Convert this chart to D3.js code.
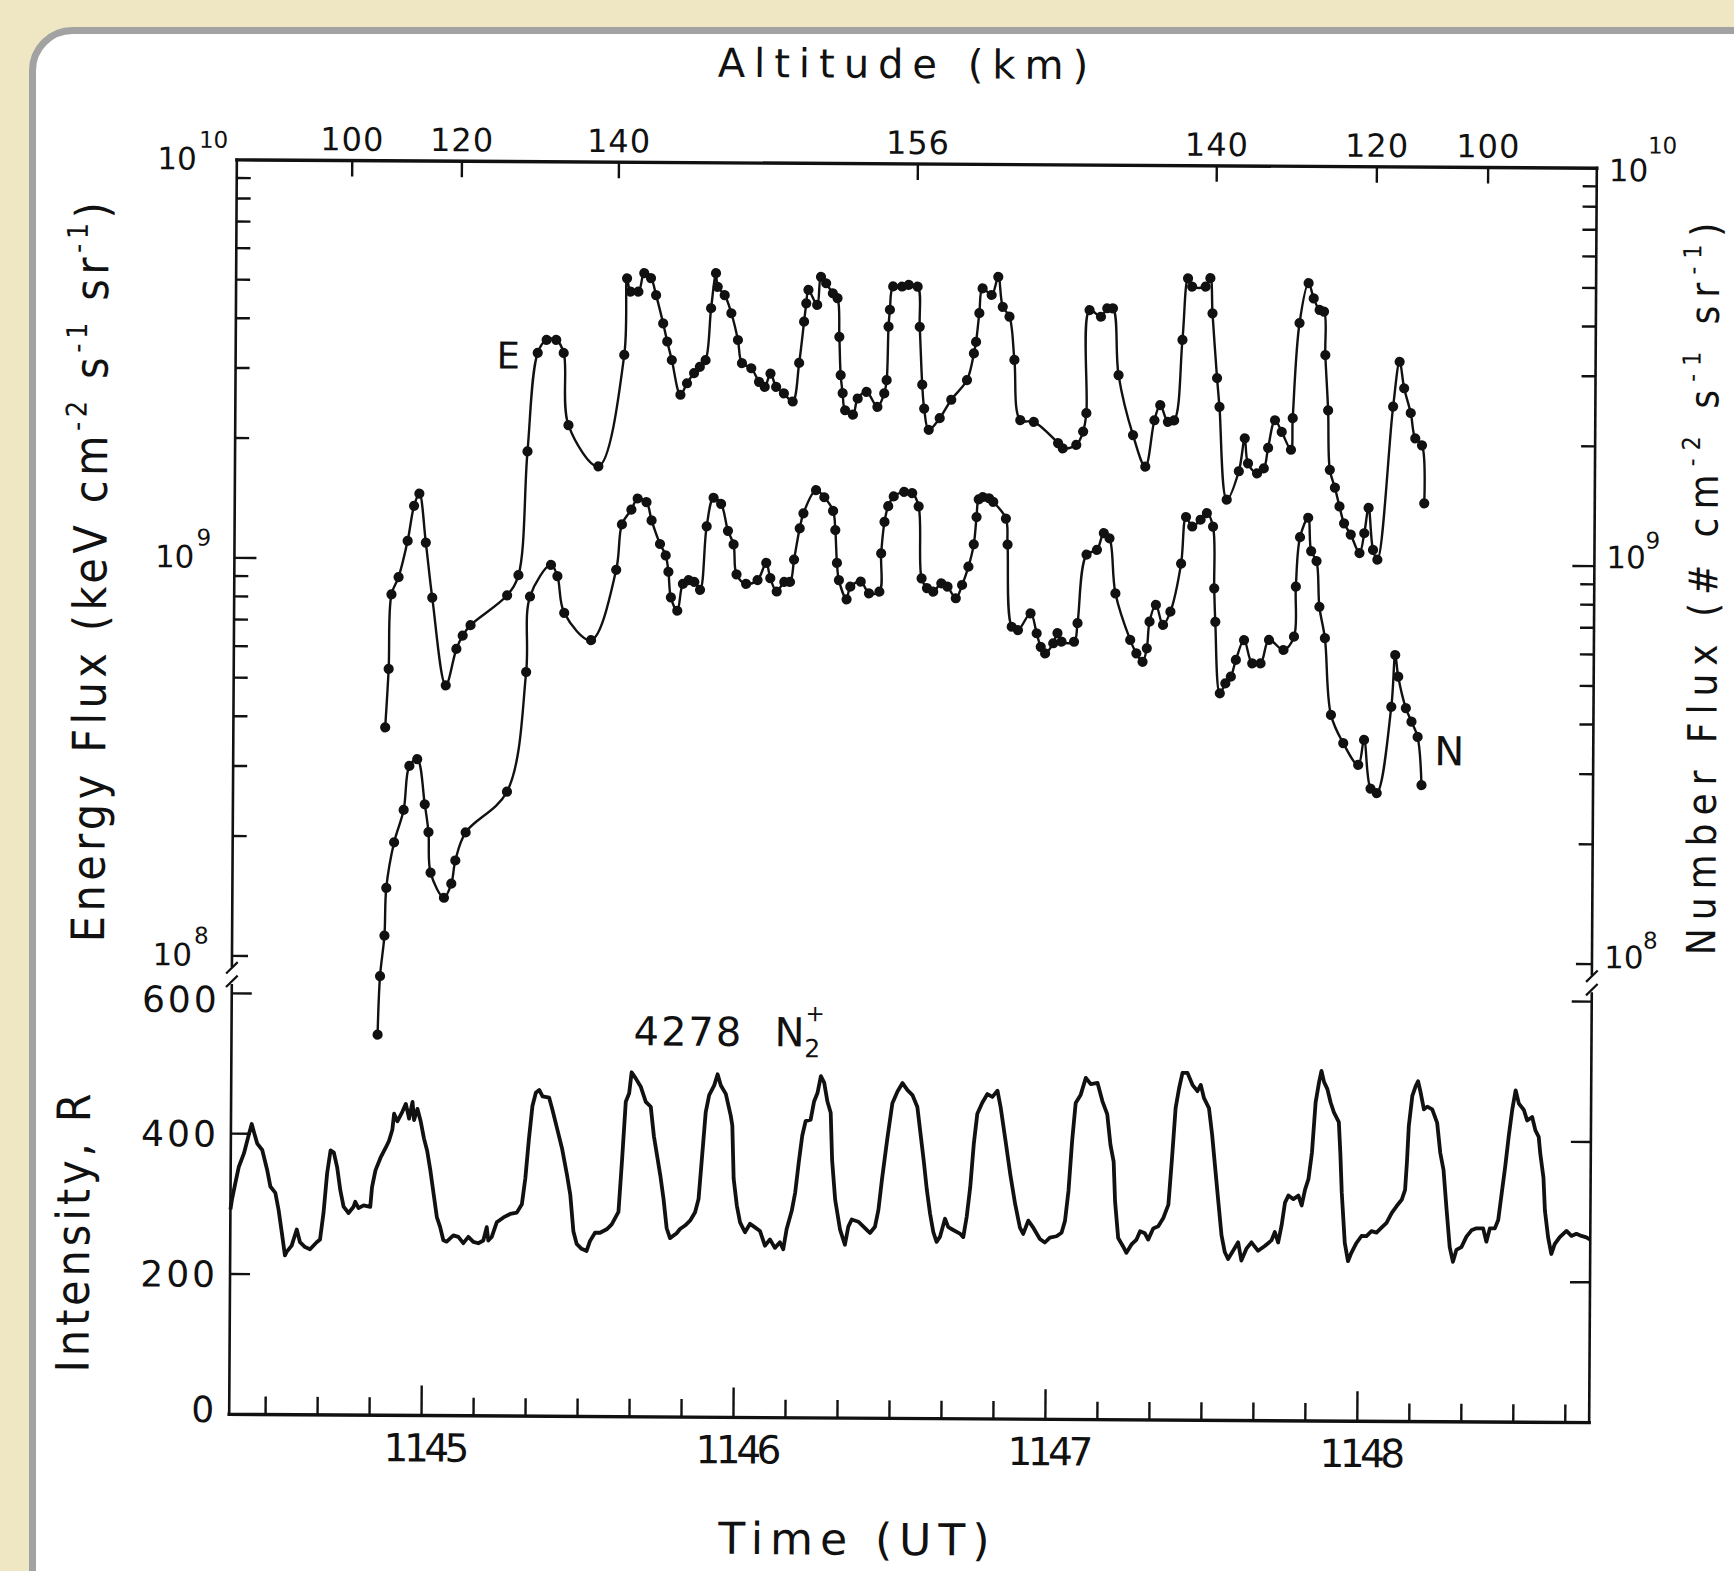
<!DOCTYPE html>
<html>
<head>
<meta charset="utf-8">
<script src="https://cdn.jsdelivr.net/npm/d3@7"></script>
<style>
  html, body { margin: 0; padding: 0; background: #efe6c4; }
  svg { display: block; }
  text { font-family: "DejaVu Sans", "Liberation Sans", sans-serif; fill: #111; }
  .cond { font-family: "DejaVu Sans Condensed", "DejaVu Sans", sans-serif; }
</style>
</head>
<body>
<svg id="chart" width="1734" height="1571"></svg>
<script>
// Time is given in seconds after 11:44:00 UT.

// Energy flux E (keV cm^-2 s^-1 sr^-1)
const energyFluxE = [
  [52.2,3.77e8],[52.8,5.29e8],[53.25,8.14e8],[54.6,9.0e8],[56.3,1.11e9],[57.5,1.36e9],[58.5,1.46e9],
  [59.8,1.10e9],[61.1,8.0e8],[63.8,4.82e8],[65.8,5.95e8],[67.0,6.43e8],[68.5,6.83e8],[75.5,8.13e8],
  [77.65,9.14e8],[79.25,1.87e9],[81.1,3.31e9],[82.8,3.57e9],[84.65,3.57e9],[86.1,3.31e9],[87.1,2.18e9],
  [92.9,1.72e9],[97.75,3.28e9],[98.2,5.11e9],[98.9,4.73e9],[100.4,4.73e9],[101.5,5.27e9],[102.8,5.12e9],
  [103.8,4.64e9],[105.2,3.94e9],[106.0,3.55e9],[106.9,3.19e9],[108.6,2.61e9],[109.85,2.79e9],[111.2,2.96e9],
  [112.3,3.07e9],[113.4,3.19e9],[114.4,4.31e9],[115.3,5.28e9],[115.65,4.88e9],[117.0,4.65e9],[118.3,4.19e9],
  [119.6,3.59e9],[120.4,3.14e9],[122.2,3.05e9],[123.7,2.82e9],[124.8,2.74e9],[125.9,2.96e9],[127.0,2.74e9],
  [128.5,2.64e9],[130.2,2.52e9],[131.4,3.15e9],[132.3,4.0e9],[132.7,4.45e9],[133.1,4.81e9],[134.8,4.41e9],
  [135.5,5.19e9],[136.5,5.0e9],[137.8,4.72e9],[138.7,4.59e9],[139.1,3.67e9],[139.4,2.94e9],[139.8,2.65e9],
  [140.3,2.40e9],[141.8,2.34e9],[142.7,2.57e9],[144.4,2.67e9],[146.5,2.45e9],[147.8,2.65e9],[148.25,2.86e9],
  [148.55,3.90e9],[148.8,4.30e9],[149.4,4.92e9],[151.1,4.92e9],[152.4,4.97e9],[154.1,4.92e9],[154.55,3.90e9],
  [155.1,2.79e9],[155.5,2.43e9],[156.4,2.15e9],[158.5,2.30e9],[160.7,2.56e9],[163.7,2.87e9],[165.0,3.35e9],
  [165.4,3.58e9],[166.0,4.23e9],[166.6,4.88e9],[168.35,4.70e9],[169.6,5.22e9],[170.5,4.39e9],[171.8,4.15e9],
  [172.8,3.23e9],[174.0,2.28e9],[176.6,2.26e9],[181.3,2.0e9],[182.2,1.94e9],[184.8,1.98e9],[186.1,2.14e9],
  [186.7,2.38e9],[187.2,4.32e9],[189.4,4.16e9],[190.6,4.37e9],[191.7,4.37e9],[192.85,2.97e9],[195.7,2.10e9],
  [198.1,1.75e9],[199.8,2.29e9],[200.9,2.50e9],[202.4,2.27e9],[203.6,2.29e9],[205.1,3.65e9],[206.1,5.21e9],
  [206.9,4.97e9],[209.5,4.97e9],[210.4,5.22e9],[210.85,4.26e9],[211.8,2.93e9],[212.3,2.48e9],[213.8,1.45e9],
  [216.1,1.71e9],[217.2,2.07e9],[217.85,1.79e9],[219.6,1.69e9],[220.9,1.74e9],[221.7,1.96e9],[223.0,2.30e9],
  [224.3,2.15e9],[226.1,1.94e9],[226.4,2.33e9],[227.6,4.04e9],[229.3,5.09e9],[230.3,4.66e9],[231.45,4.36e9],
  [232.3,4.32e9],[232.6,3.36e9],[233.2,2.44e9],[233.6,1.73e9],[234.6,1.56e9],[235.5,1.40e9],[236.4,1.27e9],
  [237.7,1.19e9],[239.4,1.07e9],[240.3,1.20e9],[241.1,1.39e9],[242.0,1.09e9],[242.85,1.03e9],[245.7,2.50e9],
  [246.9,3.24e9],[247.8,2.78e9],[249.1,2.41e9],[250.0,2.08e9],[251.3,2.0e9],[251.8,1.43e9]
];

// Number flux N (# cm^-2 s^-1 sr^-1)
const numberFluxN = [
  [51.1,6.37e7],[51.5,8.94e7],[52.3,1.13e8],[52.6,1.49e8],[54.05,1.94e8],[55.85,2.34e8],[56.9,3.02e8],
  [58.4,3.14e8],[59.9,2.42e8],[60.65,2.06e8],[61.1,1.63e8],[63.7,1.41e8],[65.1,1.53e8],[65.85,1.75e8],
  [67.8,2.06e8],[75.7,2.61e8],[79.25,5.22e8],[79.9,8.08e8],[83.9,9.71e8],[85.15,9.10e8],[86.5,7.36e8],
  [91.7,6.29e8],[96.45,9.46e8],[97.5,1.23e9],[99.3,1.34e9],[100.5,1.43e9],[102.2,1.40e9],[103.2,1.26e9],
  [104.85,1.10e9],[105.95,1.03e9],[106.5,9.37e8],[107.0,8.08e8],[108.25,7.48e8],[109.3,8.74e8],[110.4,8.93e8],
  [111.5,8.84e8],[112.6,8.45e8],[113.8,1.22e9],[115.1,1.44e9],[116.55,1.39e9],[117.9,1.19e9],[119.0,1.10e9],
  [119.6,9.25e8],[121.45,8.76e8],[123.65,8.96e8],[125.3,9.9e8],[126.1,9.06e8],[127.35,8.39e8],[128.8,8.87e8],
  [129.9,8.87e8],[130.65,1.01e9],[131.7,1.21e9],[132.4,1.32e9],[134.8,1.51e9],[136.4,1.45e9],[138.1,1.34e9],
  [138.55,1.20e9],[138.9,9.92e8],[139.3,8.98e8],[140.8,8.04e8],[141.5,8.65e8],[143.5,8.91e8],[145.1,8.33e8],
  [147.1,8.41e8],[147.4,1.05e9],[148.0,1.26e9],[148.7,1.38e9],[149.75,1.46e9],[151.75,1.50e9],[153.3,1.49e9],
  [154.55,1.38e9],[155.2,9.1e8],[156.25,8.6e8],[157.45,8.43e8],[159.0,8.85e8],[160.2,8.68e8],[161.8,8.12e8],
  [163.0,8.77e8],[164.2,9.75e8],[165.2,1.11e9],[165.7,1.30e9],[166.1,1.44e9],[166.9,1.46e9],[168.1,1.45e9],
  [168.9,1.42e9],[171.35,1.29e9],[171.7,1.11e9],[172.6,6.90e8],[173.8,6.77e8],[176.2,7.46e8],[177.4,6.65e8],
  [178.2,6.15e8],[179.05,5.92e8],[180.6,6.28e8],[181.4,6.66e8],[182.2,6.34e8],[184.6,6.34e8],[185.25,7.06e8],
  [186.9,1.05e9],[188.9,1.08e9],[190.2,1.19e9],[191.3,1.155e9],[192.5,8.40e8],[195.4,6.42e8],[196.6,5.94e8],
  [197.8,5.66e8],[198.6,6.12e8],[199.1,7.14e8],[200.3,7.87e8],[201.7,7.01e8],[203.1,7.57e8],[205.1,1.0e9],
  [206.0,1.31e9],[207.2,1.24e9],[208.8,1.29e9],[210.0,1.34e9],[211.2,1.24e9],[211.5,8.68e8],[211.75,7.15e8],
  [212.7,4.73e8],[213.75,5.01e8],[214.8,5.21e8],[215.75,5.74e8],[217.3,6.44e8],[218.9,5.63e8],[220.5,5.63e8],
  [222.1,6.45e8],[224.9,6.09e8],[226.9,6.58e8],[227.2,8.79e8],[227.95,1.17e9],[229.5,1.31e9],[230.1,1.08e9],
  [231.15,1.02e9],[231.75,7.83e8],[232.85,6.53e8],[234.1,4.19e8],[236.5,3.56e8],[239.4,3.14e8],[240.5,3.63e8],
  [241.8,2.74e8],[243.0,2.67e8],[245.7,4.40e8],[246.4,5.94e8],[247.0,5.24e8],[248.5,4.37e8],[249.6,4.04e8],
  [250.8,3.70e8],[251.6,2.80e8]
];

// 4278 A N2+ photometer intensity (R)
const intensity4278 = [
  [23.0,292],[23.28,306],[23.92,330],[24.57,353],[25.53,372],[26.49,400],[27.0,414],[27.45,402],[28.09,386],
  [29.05,377],[30.01,349],[30.66,325],[31.62,316],[32.26,292],[32.9,260],[33.54,227],[33.86,232],[34.82,241],
  [35.78,264],[36.42,246],[37.39,239],[38.35,236],[39.63,246],[40.27,250],[40.91,288],[41.55,344],[42.19,377],
  [42.83,374],[43.48,353],[44.12,320],[44.76,297],[45.72,288],[46.68,297],[47.0,304],[47.64,295],[48.6,299],
  [49.89,297],[50.21,325],[50.85,349],[51.81,367],[52.77,381],[53.41,391],[54.05,407],[54.37,430],[55.01,419],
  [55.97,433],[56.62,444],[57.26,423],[57.9,447],[58.22,421],[58.86,437],[59.5,419],[60.14,395],[60.78,377],
  [61.42,349],[62.06,316],[62.71,283],[63.35,269],[63.99,250],[64.63,248],[65.91,257],[66.87,255],[67.83,246],
  [68.8,255],[69.76,248],[70.72,246],[71.68,250],[72.32,269],[72.64,250],[73.28,255],[74.24,276],[75.53,283],
  [76.81,288],[78.09,290],[79.05,302],[79.69,339],[80.33,395],[80.97,442],[81.61,461],[82.26,465],[82.9,456],
  [84.18,454],[84.82,437],[85.78,409],[86.74,381],[87.7,344],[88.35,316],[88.99,264],[89.63,246],[90.59,239],
  [91.55,236],[92.19,250],[93.15,262],[94.11,262],[95.4,267],[96.36,274],[97.0,283],[97.64,292],[98.28,367],
  [98.92,449],[99.56,461],[100.01,491],[100.84,482],[101.81,470],[102.77,449],[103.73,442],[104.37,400],
  [105.01,372],[105.65,344],[106.29,311],[106.93,269],[107.58,255],[108.86,262],[109.5,268],[110.46,273],
  [111.42,280],[112.38,292],[113.03,311],[113.67,373],[114.31,435],[114.95,459],[115.91,473],[116.55,489],
  [117.19,473],[118.15,461],[119.12,430],[119.44,416],[119.76,340],[120.4,302],[121.04,278],[122.0,264],
  [122.96,276],[123.92,271],[124.88,266],[125.85,245],[126.81,254],[127.77,242],[128.73,250],[129.37,240],
  [130.01,269],[130.97,295],[131.61,321],[132.26,364],[132.9,402],[133.54,423],[134.5,425],[135.14,451],
  [135.78,463],[136.42,487],[137.06,478],[137.7,451],[138.35,435],[138.67,368],[139.31,311],[140.27,269],
  [141.23,247],[141.87,273],[142.51,283],[143.79,280],[145.08,271],[146.04,264],[147.0,273],[147.64,297],
  [148.28,340],[149.24,397],[150.2,449],[151.17,466],[152.13,478],[153.09,468],[154.05,461],[155.01,444],
  [155.65,406],[156.29,368],[156.93,326],[157.58,292],[158.22,266],[158.86,252],[159.5,259],[160.46,285],
  [161.1,273],[162.06,269],[163.34,264],[163.99,259],[164.63,288],[165.27,330],[165.91,392],[166.55,435],
  [167.51,451],[168.47,463],[169.43,459],[170.4,468],[171.04,444],[172.0,397],[172.96,349],[173.92,307],
  [174.88,273],[175.52,264],[176.48,283],[177.45,273],[178.73,257],[179.69,252],[180.65,259],[181.93,261],
  [182.89,266],[183.54,283],[184.18,326],[184.82,397],[185.46,451],[186.42,463],[187.38,487],[188.34,478],
  [189.63,480],[190.59,454],[191.55,435],[192.19,392],[192.83,368],[193.15,311],[193.79,259],[194.75,247],
  [195.39,238],[196.36,250],[197.32,257],[198.0,269],[198.92,266],[199.56,257],[200.52,273],[201.49,276],
  [202.45,288],[203.41,307],[204.05,373],[204.69,445],[205.33,473],[205.97,495],[206.93,495],[207.9,478],
  [208.86,469],[209.5,478],[210.14,459],[211.1,445],[211.74,407],[212.38,359],[213.02,311],[213.66,264],
  [214.31,240],[214.95,230],[215.91,242],[216.87,254],[217.51,228],[218.47,245],[219.43,254],[220.72,242],
  [222.0,249],[223.28,257],[223.92,269],[224.56,254],[225.2,278],[225.84,311],[226.48,321],[227.45,316],
  [228.41,321],[229.05,307],[229.69,330],[230.33,345],[230.97,383],[231.61,454],[232.25,483],[232.7,499],
  [233.22,483],[233.86,473],[234.5,454],[235.14,440],[236.1,426],[236.42,383],[236.74,326],[237.38,254],
  [238.02,228],[238.66,240],[239.63,254],[240.59,264],[241.55,264],[242.51,271],[243.47,269],[244.43,276],
  [245.39,283],[246.36,297],[247.32,307],[248.28,316],[248.92,330],[249.24,369],[249.56,421],[250.2,464],
  [250.84,478],[251.29,485],[251.8,469],[252.45,445],[253.09,449],[254.05,445],[255.01,426],[255.65,383],
  [256.29,359],[256.93,302],[257.57,249],[258.21,228],[258.86,245],[259.82,249],[260.78,264],[261.74,273],
  [262.7,276],[263.98,276],[264.62,257],[265.27,276],[266.23,276],[266.87,288],[267.51,326],[268.15,364],
  [268.79,407],[269.43,445],[270.07,473],[270.71,454],[271.68,445],[272.32,430],[273.28,435],[273.92,416],
  [274.56,407],[274.88,383],[275.52,349],[275.84,302],[276.48,264],[277.12,240],[277.76,254],[278.73,264],
  [280.01,273],[280.97,266],[281.93,269],[282.89,266],[283.85,264],[284.5,261]
];

// Rocket altitude (km) marked along the top edge, at these times
const altitudeTickTimes  = [45.2, 66.3, 96.5, 154, 211.5, 242.3, 263.7];
const altitudeTickLabels = ["100", "120", "140", "156", "140", "120", "100"];

// Time axis: minutes (UT) and 10 s minor ticks
const timeMajorTicks  = [60, 120, 180, 240];
const timeMajorLabels = ["1145", "1146", "1147", "1148"];
const timeMinorTicks  = d3.range(30, 285, 10);

// Flux axes (log) and intensity axis (linear)
const fluxDecades     = [1e8, 1e9, 1e10];
const fluxDecadeExp   = ["8", "9", "10"];
const intensityTicks  = [0, 200, 400, 600];

// ---------------------------------------------------------------------
const L = 233, R = 1593, T = 164, B = 1418.5;
const topBottom = 960;     // 10^8 line of the flux panel
const intTop = 997.5;      // 600 R line of the intensity panel

const svg = d3.select("#chart");

// white card with grey rim
svg.append("rect")
  .attr("x", 32.5).attr("y", 30.5)
  .attr("width", 1800).attr("height", 1700)
  .attr("rx", 40)
  .attr("fill", "#ffffff")
  .attr("stroke", "#a2a2a2")
  .attr("stroke-width", 7);

const g = svg.append("g").attr("transform", "rotate(0.35 913 791)");

const x = d3.scaleLinear().domain([23, 284.6]).range([L, R]);
const yFlux = d3.scaleLog().domain([1e8, 1e10]).range([topBottom, T]);
const yInt = d3.scaleLinear().domain([0, 600]).range([B, intTop]);

const ink = "#111";

// ---- frame ----
const frame = g.append("g").attr("stroke", ink).attr("fill", "none").attr("stroke-linecap", "square");
frame.append("line").attr("x1", L).attr("x2", R).attr("y1", T).attr("y2", T).attr("stroke-width", 3.4);
frame.append("line").attr("x1", L).attr("x2", R).attr("y1", B).attr("y2", B).attr("stroke-width", 3.4);
frame.append("line").attr("x1", L).attr("x2", L).attr("y1", T).attr("y2", topBottom + 10).attr("stroke-width", 2.6);
frame.append("line").attr("x1", L).attr("x2", L).attr("y1", intTop - 8).attr("y2", B).attr("stroke-width", 2.6);
frame.append("line").attr("x1", R).attr("x2", R).attr("y1", T).attr("y2", topBottom + 10).attr("stroke-width", 2.6);
frame.append("line").attr("x1", R).attr("x2", R).attr("y1", intTop - 8).attr("y2", B).attr("stroke-width", 2.6);

// axis breaks
[L, R].forEach(ax => {
  [topBottom + 12, intTop - 12].forEach(yb => {
    frame.append("line")
      .attr("x1", ax - 5).attr("y1", yb + 5)
      .attr("x2", ax + 5).attr("y2", yb - 5)
      .attr("stroke-width", 2.2);
  });
});

// ---- log-axis ticks, left and right ----
const fluxTicks = [];
[1e8, 1e9].forEach(dec => {
  for (let k = 1; k <= 9; k++) fluxTicks.push({ v: dec * k, major: k === 1 });
});
const tickG = g.append("g").attr("stroke", ink).attr("stroke-width", 2.4);
fluxTicks.forEach(tk => {
  const yy = yFlux(tk.v);
  const len = tk.v === 1e8 ? 16 : (tk.major ? 22 : 14);
  tickG.append("line").attr("x1", L).attr("x2", L + len).attr("y1", yy).attr("y2", yy);
  tickG.append("line").attr("x1", R).attr("x2", R - len).attr("y1", yy).attr("y2", yy);
});

// intensity ticks
intensityTicks.filter(v => v > 0).forEach(v => {
  const yy = yInt(v);
  tickG.append("line").attr("x1", L).attr("x2", L + 20).attr("y1", yy).attr("y2", yy);
  tickG.append("line").attr("x1", R).attr("x2", R - 20).attr("y1", yy).attr("y2", yy);
});

// time ticks
timeMinorTicks.forEach(t => {
  const major = timeMajorTicks.includes(t);
  tickG.append("line")
    .attr("x1", x(t)).attr("x2", x(t))
    .attr("y1", B).attr("y2", B - (major ? 30 : 18));
});

// altitude ticks
altitudeTickTimes.forEach(t => {
  tickG.append("line").attr("x1", x(t)).attr("x2", x(t)).attr("y1", T).attr("y2", T + 16);
});

// ---- labels ----
const txt = g.append("g");

txt.append("text")
  .attr("x", 903).attr("y", 78)
  .attr("text-anchor", "middle")
  .style("font-size", "40px").style("letter-spacing", "9px")
  .text("Altitude  (km)");

altitudeTickTimes.forEach((t, i) => {
  txt.append("text")
    .attr("x", x(t)).attr("y", T - 10)
    .attr("text-anchor", "middle")
    .style("font-size", "32px").style("letter-spacing", "1px")
    .text(altitudeTickLabels[i]);
});

// powers of ten on both log axes
const leftBaseDy  = [10, 10, 10],  leftSupDy  = [-12, -12, -12];
const rightBaseDy = [4, 2, 13],    rightSupDy = [-16, -18, -15];
fluxDecades.forEach((v, i) => {
  const yy = yFlux(v);
  txt.append("text").attr("x", L - 40).attr("y", yy + leftBaseDy[i])
    .attr("text-anchor", "end").style("font-size", "31px").text("10");
  txt.append("text").attr("x", L - 38).attr("y", yy + leftSupDy[i])
    .style("font-size", "23px").text(fluxDecadeExp[i]);
  txt.append("text").attr("x", R + 12).attr("y", yy + rightBaseDy[i])
    .style("font-size", "31px").text("10");
  txt.append("text").attr("x", R + 51).attr("y", yy + rightSupDy[i])
    .style("font-size", "23px").text(fluxDecadeExp[i]);
});

intensityTicks.forEach(v => {
  txt.append("text")
    .attr("x", L - 12).attr("y", yInt(v) + (v === 0 ? -5 : (v === 600 ? 6 : 0)))
    .attr("dy", "0.36em")
    .attr("text-anchor", "end")
    .style("font-size", "36px").style("letter-spacing", "3px")
    .text(v);
});

timeMajorTicks.forEach((t, i) => {
  txt.append("text")
    .attr("x", x(t) + 3).attr("y", B + 46)
    .attr("text-anchor", "middle")
    .style("font-size", "39px").style("letter-spacing", "-4.5px")
    .text(timeMajorLabels[i]);
});

txt.append("text")
  .attr("x", 862).attr("y", 1555)
  .attr("text-anchor", "middle")
  .style("font-size", "44px").style("letter-spacing", "7px")
  .text("Time  (UT)");

// rotated axis titles with superscripts
function axisTitle(parent, cx, cy, parts, size, spacing) {
  const t = parent.append("text")
    .attr("class", "cond")
    .attr("transform", `translate(${cx},${cy}) rotate(-90)`)
    .attr("text-anchor", "middle")
    .style("font-size", size + "px").style("letter-spacing", spacing + "px");
  parts.forEach(p => {
    const s = t.append("tspan").text(p.s);
    if (p.sup) s.attr("dy", -size * 0.45).style("font-size", (size * 0.62) + "px");
    if (p.back) s.attr("dy", size * 0.45);
  });
  return t;
}

const fluxUnits = [
  { s: "-2", sup: true }, { s: " s", back: true },
  { s: "-1", sup: true }, { s: " sr", back: true }, { s: "-1", sup: true }, { s: ")", back: true }
];

axisTitle(txt, 105, 575, [{ s: "Energy  Flux  (keV cm" }].concat(fluxUnits), 46, 4.5);
axisTitle(txt, 1716, 580, [{ s: "Number  Flux  (# cm" }].concat(fluxUnits), 40, 8);
axisTitle(txt, 92, 1236, [{ s: "Intensity,  R" }], 46, 4);

txt.append("text").attr("x", 494).attr("y", 371).style("font-size", "37px").text("E");
txt.append("text").attr("x", 1434).attr("y", 762).style("font-size", "40px").text("N");

txt.append("text").attr("x", 635).attr("y", 1047)
  .style("font-size", "40px").style("letter-spacing", "2px").text("4278");
const n2 = txt.append("text").attr("x", 776).attr("y", 1047).style("font-size", "40px");
n2.append("tspan").text("N");
n2.append("tspan").attr("dy", 11).style("font-size", "25px").text("2");
n2.append("tspan").attr("dx", -15).attr("dy", -36).style("font-size", "23px").text("+");

// ---- data ----
const dataG = g.append("g");

const fluxLine = d3.line()
  .x(d => x(d[0]))
  .y(d => yFlux(d[1]))
  .curve(d3.curveCatmullRom.alpha(0.5));

[energyFluxE, numberFluxN].forEach(series => {
  dataG.append("path")
    .datum(series)
    .attr("d", fluxLine)
    .attr("fill", "none")
    .attr("stroke", ink)
    .attr("stroke-width", 2.4);
  dataG.append("g").selectAll("circle")
    .data(series)
    .join("circle")
    .attr("cx", d => x(d[0]))
    .attr("cy", d => yFlux(d[1]))
    .attr("r", 5.1)
    .attr("fill", ink);
});

const intLine = d3.line()
  .x(d => x(d[0]))
  .y(d => yInt(d[1]));

dataG.append("path")
  .datum(intensity4278)
  .attr("d", intLine)
  .attr("fill", "none")
  .attr("stroke", ink)
  .attr("stroke-width", 3.8)
  .attr("stroke-linejoin", "round");
</script>
</body>
</html>
